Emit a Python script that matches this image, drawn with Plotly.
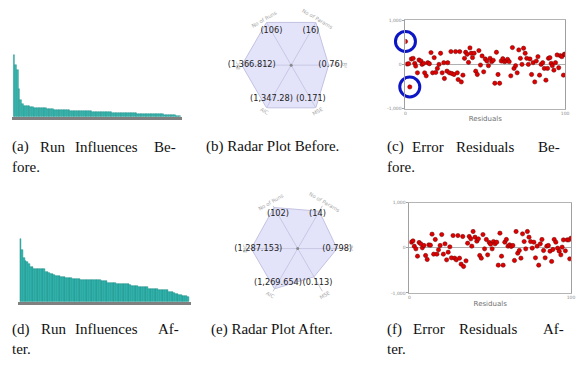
import math
import plotly.graph_objects as go

W, H = 577, 366

# ---------------- data ----------------
influence_before = [188, 158, 142, 85, 50, 38,
                    33, 32, 32, 32, 31, 31,
                    27, 27, 27, 26, 26, 26, 26, 26, 25, 25,
                    23, 23, 22, 22, 22, 22, 21,
                    20, 20, 20, 20, 20, 19, 19, 19, 19, 19,
                    17, 17, 17, 17, 17, 17, 17, 17, 16, 16, 16, 16, 16, 16, 16,
                    14, 14, 14, 14, 14, 13, 13, 13, 13,
                    12, 12, 12, 12, 12, 12, 11, 11, 11, 11, 11,
                    9, 9, 9, 9, 9, 9, 9, 9,
                    7, 7, 7, 7, 7, 7, 7, 7, 6,
                    5, 5, 4, 4, 4, 4, 3, 3, 3]

influence_after = [190, 156, 132, 124, 120, 116,
                   105, 105,
                   101, 101, 100, 100, 99, 99, 99,
                   90, 90, 89,
                   85, 84, 80, 79, 78, 78, 74,
                   74, 74, 73, 73, 72, 72,
                   70, 70, 70, 70, 69,
                   67, 67, 67, 67, 67, 67, 66, 66, 66, 66, 66, 65,
                   64, 64, 63, 63,
                   58, 58, 58, 57, 57,
                   54, 54, 54, 54, 53, 53, 53, 53, 52,
                   49, 49, 49, 48,
                   45, 45, 45, 44, 44, 44,
                   40, 40, 40, 39, 39, 39,
                   37, 37, 36, 36, 36, 35,
                   30, 29, 29, 28,
                   24, 23, 22, 22,
                   18, 17, 17, 15]

radar_axes = ["No of Runs", "No of Params", "R²", "MSE", "AIC", "BIC"]
radar_before = [106, 16, 0.76, 0.171, 1347.28, 1366.812]
radar_after = [102, 14, 0.798, 0.113, 1269.654, 1287.153]
radar_scale = [106, 16, 1, 0.171, 1347.28, 1366.812]

resid_before_x = [0, 1, 2, 2.7, 3.7, 4.8, 5.8, 6.4, 7.5, 8.5, 9.7, 10.4, 11.4, 12, 13, 14, 15, 16, 17, 18,
                  19, 20, 21, 22, 23, 24, 24.4, 26, 26.5, 27.5, 28.5, 29, 30.4, 31.4, 32.5, 33, 34, 35, 36, 37,
                  37.7, 38.7, 39.5, 40.4, 41.2, 42, 43, 44, 45, 46, 47, 48, 49, 50, 51, 52, 53, 54, 55, 56,
                  57, 58, 59, 60, 61, 62, 63, 64, 65, 66, 67, 68, 69, 70, 71, 72, 73, 74, 75, 76,
                  77, 78, 79, 80, 81, 82, 83, 84, 85, 86, 87, 88, 89, 89.6, 90.5, 91.3, 92, 93, 94, 95,
                  96, 97, 98, 99, 99.5, 100]
resid_before_y = [519, 8, 15, -511, 122, 137, 23, -38, -190, 99, 76, 0, 23, -190, -259, 38, 15, 267, -190, 153,
                  -183, -92, 0, 252, -190, 38, -320, -153, 38, -190, 290, -206, -229, 290, -190, -343, 290, -397, -244, 137,
                  275, 229, 46, 374, 252, 153, 252, -153, -229, 313, -15, 191, -168, 122, 76, -30, 137, 61, 92, -427,
                  275, -229, -427, 76, 130, 61, 76, 114, 61, -259, 381, -92, -30, -190, 328, 137, 0, 366, 252, 137,
                  0, 122, -229, 38, -397, 76, 175, -244, 0, 38, -92, -358, -92, 137, 153, 23, -30, -130, 38, 214,
                  -76, 198, 175, -244, 229, 229]

resid_after_x = [1.2, 2.2, 3, 4, 5, 6, 7, 8, 9, 10, 11, 12, 13, 14, 15, 16, 17, 18, 19, 20,
                 21, 22, 23, 24, 25, 26, 27, 28, 29, 30, 31, 32, 33, 33.5, 35, 36, 37, 38, 38.6, 39.4,
                 40.6, 41.7, 42.7, 43.5, 44.5, 45.5, 46.5, 47.6, 48.4, 49.4, 50.2, 51.2, 52, 53, 54, 55, 56, 57, 58, 59,
                 60, 61, 62, 63, 64, 65, 66, 67, 68, 69, 70, 71, 72, 73, 74, 75, 76, 77, 78, 79,
                 80, 81, 82, 83, 84, 85, 86, 87, 88, 88.8, 89.6, 90.6, 91.7, 92.7, 93.7, 94.5, 95.3, 96.5, 97.6, 98.6,
                 99.2, 100]
resid_after_y = [125, 155, 37, -22, -185, 118, 89, 0, 52, -170, -258, 66, 59, 303, -140, 185, -140, -44, 52, 295,
                 -140, 89, -266, -96, 22, -221, 273, -229, -266, 273, -229, -362, 251, -413, -288, 103, 251, 199, 37, 362,
                 236, 148, 199, -170, -229, 295, -22, 185, -155, 118, 81, -22, 140, 89, 125, -384, 325, -185, -384, 125,
                 185, 37, 66, 30, 52, -280, 362, -118, -59, -229, 310, 140, -22, 362, 236, 140, -7, 125, -221, 37,
                 -384, 89, 185, -59, -221, 37, 52, -74, -302, -37, 185, 125, -7, -74, -155, 15, 177, -66, 177, 177,
                 -244, 214]

captions = [
    # (words, left x positions, y)
    (["(a)", "Run", "Influences", "Be-"], [9, 37, 73, 152], 147),
    (["fore."], [9], 167),
    (["(b) Radar Plot Before."], [205], 147),
    (["(c)", "Error", "Residuals", "Be-"], [387, 413, 457, 540], 147),
    (["fore."], [387], 167),
    (["(d)", "Run", "Influences", "Af-"], [9, 38, 73, 156], 332),
    (["ter."], [9], 352),
    (["(e) Radar Plot After."], [210], 332),
    (["(f)", "Error", "Residuals", "Af-"], [387, 414, 460, 545], 332),
    (["ter."], [387], 352),
]

# ---------------- helpers ----------------
def px_x(x):
    return x / W


def px_y(y):
    return 1 - y / H


fig = go.Figure()

BAR_FILL = "#33bab3"
BAR_LINE = "#1d8682"

# ---- bar charts ----
for vals, xa, ya in [(influence_before, "x", "y"), (influence_after, "x2", "y2")]:
    fig.add_trace(go.Bar(x=list(range(len(vals))), y=vals, xaxis=xa, yaxis=ya,
                         marker=dict(color=BAR_FILL, line=dict(color=BAR_LINE, width=0.4)),
                         hoverinfo="skip"))

bar_axis_common = dict(showgrid=False, zeroline=False, showticklabels=False, ticks="",
                       showline=True, linecolor="#808080", linewidth=2.5)
fig.update_layout(
    xaxis=dict(domain=[px_x(10.7), px_x(182.7)], range=[-1.45, 100.5], anchor="y", **bar_axis_common),
    yaxis=dict(domain=[px_y(116.3), px_y(49.6)], range=[0, 200], visible=False, anchor="x"),
    xaxis2=dict(domain=[px_x(17.3), px_x(191.7)], range=[-1.5, 100.9], anchor="y2", **bar_axis_common),
    yaxis2=dict(domain=[px_y(303.8), px_y(237.1)], range=[0, 200], visible=False, anchor="x2"),
)

# ---- radar charts ----
R = 50
radar_specs = [("polar", radar_before, (292.7, 64)), ("polar2", radar_after, (299.3, 250))]
annotations = []
angles = [120, 60, 0, -60, -120, 180]
label_rot = [-30, 30, 90, -30, 30, -90]
for pname, vals, (cx, cy) in radar_specs:
    r = [v / s for v, s in zip(vals, radar_scale)]
    fig.add_trace(go.Scatterpolar(r=r + r[:1], theta=radar_axes + radar_axes[:1], subplot=pname,
                                  mode="lines", fill="toself",
                                  fillcolor="rgba(200,200,245,0.5)",
                                  line=dict(color="#c2c2e2", width=1), hoverinfo="skip"))
    fig.add_trace(go.Scatterpolar(r=[0], theta=[radar_axes[0]], subplot=pname, mode="markers",
                                  marker=dict(size=3, color="#888888"), hoverinfo="skip"))
    fig.add_trace(go.Scatterpolar(r=[0.8] * len(vals), theta=radar_axes, subplot=pname, mode="text",
                                  text=[f"({v:,})" for v in vals], textposition="middle center",
                                  textfont=dict(family="DejaVu Sans", size=8.2, color="#222222"),
                                  hoverinfo="skip"))
    fig.layout[pname] = dict(
        domain=dict(x=[px_x(cx - R), px_x(cx + R)], y=[px_y(cy + R), px_y(cy - R)]),
        bgcolor="rgba(0,0,0,0)",
        radialaxis=dict(visible=False, range=[0, 1]),
        angularaxis=dict(type="category", rotation=120, direction="clockwise",
                         showline=False, showticklabels=False, ticks="",
                         showgrid=True, gridcolor="#c8c8d2", gridwidth=0.8),
    )
    for name, a, rot in zip(radar_axes, angles, label_rot):
        lx = cx + 1.08 * R * math.cos(math.radians(a))
        ly = cy - 1.08 * R * math.sin(math.radians(a))
        annotations.append(dict(x=px_x(lx), y=px_y(ly), xref="paper", yref="paper", text=name,
                                showarrow=False, xanchor="center", yanchor="middle", textangle=rot,
                                font=dict(family="DejaVu Sans", size=5.2, color="#a8a8a8")))

# ---- residual scatter charts ----
resid_specs = [(resid_before_x, resid_before_y, "x3", "y3", True),
               (resid_after_x, resid_after_y, "x4", "y4", False)]
for xs, ys, xa, ya, circled in resid_specs:
    fig.add_trace(go.Scatter(x=xs, y=ys, xaxis=xa, yaxis=ya, mode="markers",
                             marker=dict(size=4.3, color="#e00000", line=dict(color="#6a0000", width=0.5)),
                             hoverinfo="skip"))
    if circled:
        idx = [i for i, v in enumerate(ys) if abs(v) > 450]
        fig.add_trace(go.Scatter(x=[xs[i] for i in idx], y=[ys[i] for i in idx], xaxis=xa, yaxis=ya,
                                 mode="markers", cliponaxis=False,
                                 marker=dict(symbol="circle-open", size=20, color="#0c16c4",
                                             line=dict(width=3, color="#0c16c4")),
                                 hoverinfo="skip"))

sx_common = dict(range=[0, 100], tickvals=[0, 100], ticktext=["0", "100"],
                 tickfont=dict(family="DejaVu Sans", size=4.5, color="#8a8a8a"),
                 showline=True, linecolor="#b4b4b4", linewidth=1, mirror=True,
                 showgrid=False, zeroline=False, ticks="",
                 title=dict(text="Residuals", font=dict(family="DejaVu Sans", size=7, color="#707070"),
                            standoff=1))
sy_common = dict(range=[-1000, 1000], tickvals=[-1000, 0, 1000], ticktext=["-1,000", "0", "1,000"],
                 tickfont=dict(family="DejaVu Sans", size=4.5, color="#8a8a8a"),
                 showline=True, linecolor="#a0a0a0", linewidth=1, mirror=True,
                 showgrid=False, zeroline=True, zerolinecolor="#b0b0b0", zerolinewidth=1,
                 ticks="outside", ticklen=2, tickcolor="#a0a0a0")
fig.update_layout(
    xaxis3=dict(domain=[px_x(408), px_x(569)], anchor="y3", **sx_common),
    yaxis3=dict(domain=[px_y(108), px_y(18.5)], anchor="x3", **sy_common),
    xaxis4=dict(domain=[px_x(412), px_x(575)], anchor="y4", **sx_common),
    yaxis4=dict(domain=[px_y(295), px_y(203.5)], anchor="x4", **sy_common),
)

# ---- captions ----
for words, xs, y in captions:
    for wtxt, x in zip(words, xs):
        annotations.append(dict(x=px_x(x), y=px_y(y), xref="paper", yref="paper", text=wtxt,
                                showarrow=False, xanchor="left", yanchor="middle",
                                font=dict(family="Liberation Serif", size=15, color="#111111")))

fig.update_layout(width=W, height=H, margin=dict(l=0, r=0, t=0, b=0),
                  paper_bgcolor="white", plot_bgcolor="white", showlegend=False,
                  bargap=0, annotations=annotations)

fig.write_html("out.html")
